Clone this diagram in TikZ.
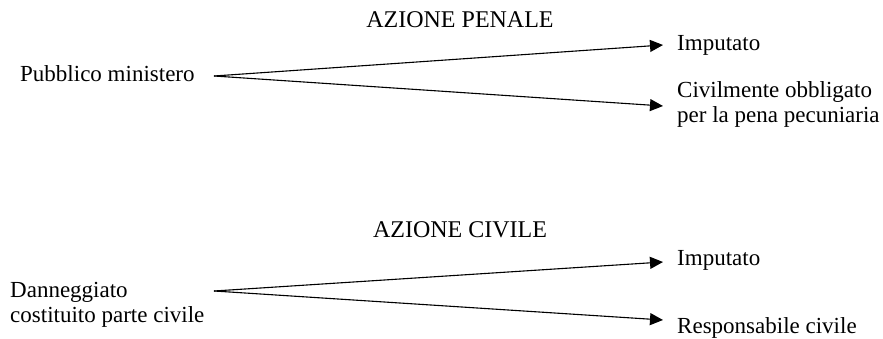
\documentclass[tikz,border=0pt]{standalone}
\usepackage{fontspec}
\setmainfont{Liberation Serif}
\usetikzlibrary{arrows.meta}
\begin{document}
\begin{tikzpicture}[x=1pt,y=-1pt,
  txt/.style={inner sep=0pt, font=\fontsize{23}{25}\selectfont, align=left},
  ttl/.style={inner sep=0pt, font=\fontsize{24}{26}\selectfont},
  arr/.style={line width=1.1pt, -{Triangle[length=13pt,width=12pt]}}]
\useasboundingbox (0,0) rectangle (883,339);

% penal action (multi-line nodes sit on the baseline of their last line)
\node[ttl, anchor=base] (tp) at (460,28) {AZIONE PENALE};
\node[txt, anchor=base west] (pm) at (20,82) {Pubblico ministero};
\node[txt, anchor=base west] (im1) at (677,51) {Imputato};
\node[txt, anchor=base west] (co) at (677,123) {Civilmente obbligato\\per la pena pecuniaria};
\coordinate (o1) at (214,76);
\coordinate (t1) at (663,45);
\coordinate (t2) at (663,106);
\draw[arr] (o1) -- (t1);
\draw[arr] (o1) -- (t2);

% civil action
\node[ttl, anchor=base] (tc) at (460,237) {AZIONE CIVILE};
\node[txt, anchor=base west] (da) at (10,322) {Danneggiato\\costituito parte civile};
\node[txt, anchor=base west] (im2) at (677,265) {Imputato};
\node[txt, anchor=base west] (rc) at (677,333) {Responsabile civile};
\coordinate (o2) at (214,291);
\coordinate (t3) at (663,262);
\coordinate (t4) at (663,320);
\draw[arr] (o2) -- (t3);
\draw[arr] (o2) -- (t4);
\end{tikzpicture}
\end{document}
